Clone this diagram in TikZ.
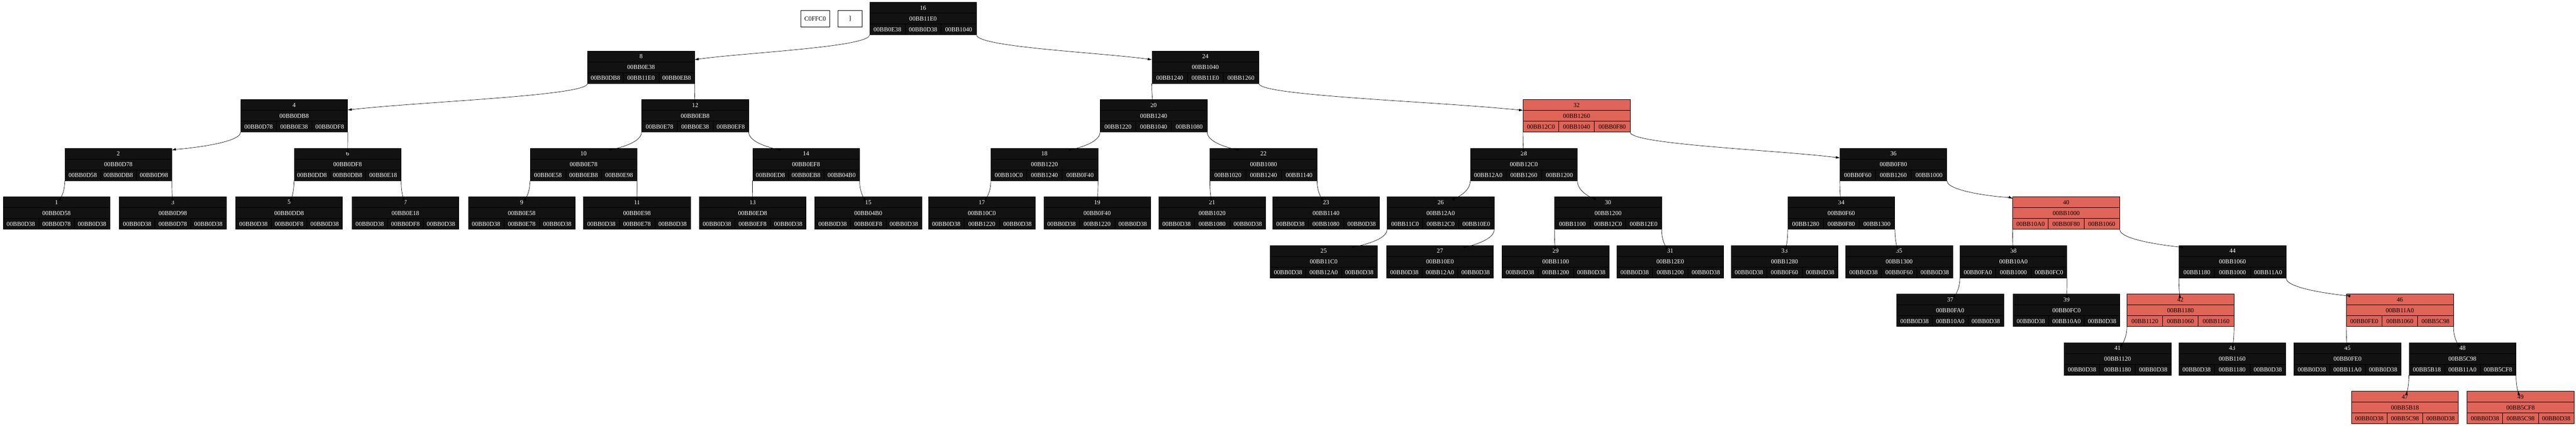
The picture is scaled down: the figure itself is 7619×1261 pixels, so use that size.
\documentclass[tikz,border=0pt]{standalone}
\usepackage{fontspec}
\setmainfont{Liberation Serif}
\usetikzlibrary{arrows.meta,calc}
\definecolor{nblk}{RGB}{18,18,18}
\definecolor{nred}{RGB}{224,100,88}
\tikzset{
  rbox/.style={rectangle,minimum width=316pt,minimum height=96pt,inner sep=0pt,draw=black,line width=1pt},
  blk/.style={fill=nblk},
  red/.style={fill=nred},
  blksep/.style={draw=black,line width=1pt},
  redsep/.style={draw=black,line width=1.2pt},
  rtxt/.style={inner sep=0pt,font=\fontsize{18.4}{20}\selectfont},
  blkt/.style={text=white},
  redt/.style={text=black},
  edge/.style={draw=black,line width=1pt,-{Triangle[length=12pt,width=7pt]}},
  tag/.style={rectangle,draw=black,line width=1pt,fill=white,minimum height=48pt,inner sep=0pt,font=\fontsize{18.4}{20}\selectfont}
}
\newcommand\rec[9]{%
  \node[rbox,#1] (#2) at (#3,#4+48) {};
  \draw[#1sep] (#3-158,#4+32) -- (#3+158,#4+32) (#3-158,#4+64) -- (#3+158,#4+64)
     (#3-52.67,#4+64) -- (#3-52.67,#4+96) (#3+52.67,#4+64) -- (#3+52.67,#4+96);
  \node[rtxt,#1t] at (#3,#4+16) {#5};
  \node[rtxt,#1t] at (#3,#4+48) {#6};
  \node[rtxt,#1t] at (#3-105.33,#4+80) {#7};
  \node[rtxt,#1t] at (#3,#4+80) {#8};
  \node[rtxt,#1t] at (#3+105.33,#4+80) {#9};
}
\newcommand\lk[3]{\draw[edge] (#1.#2) .. controls +(0,36) and ($(#3)!0.45!(#1.#2)$) .. (#3);}
\begin{document}
\begin{tikzpicture}[x=1pt,y=-1pt]
\useasboundingbox (0,0) rectangle (7619,1261);
\fill[white] (0,0) rectangle (7619,1261);
% tags
\node[tag,minimum width=86pt] (tagA) at (2411,55) {C0FFC0};
\node[tag,minimum width=72pt] (tagB) at (2514,55) {]};
% L0
\rec{blk}{n16}{2730}{7}{16}{00BB11E0}{00BB0E38}{00BB0D38}{00BB1040}
% L1
\rec{blk}{n8}{1896}{151}{8}{00BB0E38}{00BB0DB8}{00BB11E0}{00BB0EB8}
\rec{blk}{n24}{3565}{151}{24}{00BB1040}{00BB1240}{00BB11E0}{00BB1260}
% L2
\rec{blk}{n4}{870}{295}{4}{00BB0DB8}{00BB0D78}{00BB0E38}{00BB0DF8}
\rec{blk}{n12}{2056}{295}{12}{00BB0EB8}{00BB0E78}{00BB0E38}{00BB0EF8}
\rec{blk}{n20}{3412}{295}{20}{00BB1240}{00BB1220}{00BB1040}{00BB1080}
\rec{red}{n32}{4663}{295}{32}{00BB1260}{00BB12C0}{00BB1040}{00BB0F80}
% L3
\rec{blk}{n2}{350}{439}{2}{00BB0D78}{00BB0D58}{00BB0DB8}{00BB0D98}
\rec{blk}{n6}{1028}{439}{6}{00BB0DF8}{00BB0DD8}{00BB0DB8}{00BB0E18}
\rec{blk}{n10}{1726}{439}{10}{00BB0E78}{00BB0E58}{00BB0EB8}{00BB0E98}
\rec{blk}{n14}{2384}{439}{14}{00BB0EF8}{00BB0ED8}{00BB0EB8}{00BB04B0}
\rec{blk}{n18}{3089}{439}{18}{00BB1220}{00BB10C0}{00BB1240}{00BB0F40}
\rec{blk}{n22}{3737}{439}{22}{00BB1080}{00BB1020}{00BB1240}{00BB1140}
\rec{blk}{n28}{4507}{439}{28}{00BB12C0}{00BB12A0}{00BB1260}{00BB1200}
\rec{blk}{n36}{5600}{439}{36}{00BB0F80}{00BB0F60}{00BB1260}{00BB1000}
% L4
\rec{blk}{n1}{167}{583}{1}{00BB0D58}{00BB0D38}{00BB0D78}{00BB0D38}
\rec{blk}{n3}{511}{583}{3}{00BB0D98}{00BB0D38}{00BB0D78}{00BB0D38}
\rec{blk}{n5}{855}{583}{5}{00BB0DD8}{00BB0D38}{00BB0DF8}{00BB0D38}
\rec{blk}{n7}{1199}{583}{7}{00BB0E18}{00BB0D38}{00BB0DF8}{00BB0D38}
\rec{blk}{n9}{1543}{583}{9}{00BB0E58}{00BB0D38}{00BB0E78}{00BB0D38}
\rec{blk}{n11}{1884}{583}{11}{00BB0E98}{00BB0D38}{00BB0E78}{00BB0D38}
\rec{blk}{n13}{2226}{583}{13}{00BB0ED8}{00BB0D38}{00BB0EF8}{00BB0D38}
\rec{blk}{n15}{2568}{583}{15}{00BB04B0}{00BB0D38}{00BB0EF8}{00BB0D38}
\rec{blk}{n17}{2904}{583}{17}{00BB10C0}{00BB0D38}{00BB1220}{00BB0D38}
\rec{blk}{n19}{3245}{583}{19}{00BB0F40}{00BB0D38}{00BB1220}{00BB0D38}
\rec{blk}{n21}{3585}{583}{21}{00BB1020}{00BB0D38}{00BB1080}{00BB0D38}
\rec{blk}{n23}{3922}{583}{23}{00BB1140}{00BB0D38}{00BB1080}{00BB0D38}
\rec{blk}{n26}{4261}{583}{26}{00BB12A0}{00BB11C0}{00BB12C0}{00BB10E0}
\rec{blk}{n30}{4756}{583}{30}{00BB1200}{00BB1100}{00BB12C0}{00BB12E0}
\rec{blk}{n34}{5446}{583}{34}{00BB0F60}{00BB1280}{00BB0F80}{00BB1300}
\rec{red}{n40}{6111}{583}{40}{00BB1000}{00BB10A0}{00BB0F80}{00BB1060}
% L5
\rec{blk}{n25}{3915}{727}{25}{00BB11C0}{00BB0D38}{00BB12A0}{00BB0D38}
\rec{blk}{n27}{4259}{727}{27}{00BB10E0}{00BB0D38}{00BB12A0}{00BB0D38}
\rec{blk}{n29}{4601}{727}{29}{00BB1100}{00BB0D38}{00BB1200}{00BB0D38}
\rec{blk}{n31}{4940}{727}{31}{00BB12E0}{00BB0D38}{00BB1200}{00BB0D38}
\rec{blk}{n33}{5278}{727}{33}{00BB1280}{00BB0D38}{00BB0F60}{00BB0D38}
\rec{blk}{n35}{5617}{727}{35}{00BB1300}{00BB0D38}{00BB0F60}{00BB0D38}
\rec{blk}{n38}{5955}{727}{38}{00BB10A0}{00BB0FA0}{00BB1000}{00BB0FC0}
\rec{blk}{n44}{6603}{727}{44}{00BB1060}{00BB1180}{00BB1000}{00BB11A0}
% L6
\rec{blk}{n37}{5768}{871}{37}{00BB0FA0}{00BB0D38}{00BB10A0}{00BB0D38}
\rec{blk}{n39}{6112}{871}{39}{00BB0FC0}{00BB0D38}{00BB10A0}{00BB0D38}
\rec{red}{n42}{6449}{871}{42}{00BB1180}{00BB1120}{00BB1060}{00BB1160}
\rec{red}{n46}{7098}{871}{46}{00BB11A0}{00BB0FE0}{00BB1060}{00BB5C98}
% L7
\rec{blk}{n41}{6263}{1015}{41}{00BB1120}{00BB0D38}{00BB1180}{00BB0D38}
\rec{blk}{n43}{6602}{1015}{43}{00BB1160}{00BB0D38}{00BB1180}{00BB0D38}
\rec{blk}{n45}{6943}{1015}{45}{00BB0FE0}{00BB0D38}{00BB11A0}{00BB0D38}
\rec{blk}{n48}{7283}{1015}{48}{00BB5C98}{00BB5B18}{00BB11A0}{00BB5CF8}
% L8
\rec{red}{n47}{7113}{1159}{47}{00BB5B18}{00BB0D38}{00BB5C98}{00BB0D38}
\rec{red}{n49}{7455}{1159}{49}{00BB5CF8}{00BB0D38}{00BB5C98}{00BB0D38}
% edges
\lk{n16}{south west}{n8}   \lk{n16}{south east}{n24}
\lk{n8}{south west}{n4}    \lk{n8}{south east}{n12}
\lk{n24}{south west}{n20}  \lk{n24}{south east}{n32}
\lk{n4}{south west}{n2}    \lk{n4}{south east}{n6}
\lk{n12}{south west}{n10}  \lk{n12}{south east}{n14}
\lk{n20}{south west}{n18}  \lk{n20}{south east}{n22}
\lk{n32}{south west}{n28}  \lk{n32}{south east}{n36}
\lk{n2}{south west}{n1}    \lk{n2}{south east}{n3}
\lk{n6}{south west}{n5}    \lk{n6}{south east}{n7}
\lk{n10}{south west}{n9}   \lk{n10}{south east}{n11}
\lk{n14}{south west}{n13}  \lk{n14}{south east}{n15}
\lk{n18}{south west}{n17}  \lk{n18}{south east}{n19}
\lk{n22}{south west}{n21}  \lk{n22}{south east}{n23}
\lk{n28}{south west}{n26}  \lk{n28}{south east}{n30}
\lk{n36}{south west}{n34}  \lk{n36}{south east}{n40}
\lk{n26}{south west}{n25}  \lk{n26}{south east}{n27}
\lk{n30}{south west}{n29}  \lk{n30}{south east}{n31}
\lk{n34}{south west}{n33}  \lk{n34}{south east}{n35}
\lk{n40}{south west}{n38}  \lk{n40}{south east}{n44}
\lk{n38}{south west}{n37}  \lk{n38}{south east}{n39}
\lk{n44}{south west}{n42}  \lk{n44}{south east}{n46}
\lk{n42}{south west}{n41}  \lk{n42}{south east}{n43}
\lk{n46}{south west}{n45}  \lk{n46}{south east}{n48}
\lk{n48}{south west}{n47}  \lk{n48}{south east}{n49}
\end{tikzpicture}
\end{document}
